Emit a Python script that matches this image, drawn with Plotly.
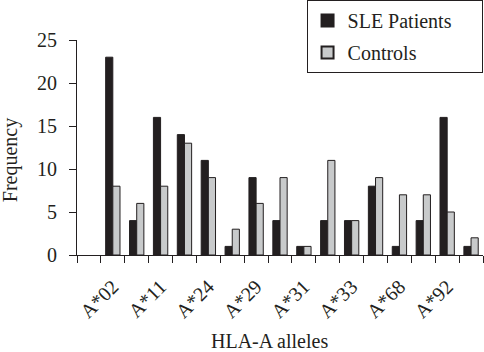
import plotly.graph_objects as go

# Category slots (slot 0 is empty in the original chart)
slots = list(range(0, 17))
sle_patients = [None, 23, 4, 16, 14, 11, 1, 9, 4, 1, 4, 4, 8, 1, 4, 16, 1]
controls = [None, 8, 6, 8, 13, 9, 3, 6, 9, 1, 11, 4, 9, 7, 7, 5, 2]

label_slots = [1, 3, 5, 7, 9, 11, 13, 15]
label_text = ["A*02", "A*11", "A*24", "A*29", "A*31", "A*33", "A*68", "A*92"]

FONT = "Liberation Serif"
INK = "#231f20"
PAD = "\u00a0" * 5

fig = go.Figure()
fig.add_trace(go.Bar(x=slots, y=sle_patients, name="SLE Patients" + PAD,
                     marker=dict(color=INK, line=dict(color=INK, width=1)),
                     legendgroup="a"))
fig.add_trace(go.Bar(x=slots, y=controls, name="Controls",
                     marker=dict(color="#c8cacb", line=dict(color=INK, width=1)),
                     legendgroup="b"))

fig.update_layout(
    width=484, height=352,
    margin=dict(l=77, r=1, t=40, b=97, autoexpand=False),
    paper_bgcolor="white", plot_bgcolor="white",
    barmode="group", bargap=0.4, bargroupgap=0,
    font=dict(family=FONT, size=20, color=INK),
    legend=dict(x=0.997, xref="container", xanchor="right",
                y=1, yref="container", yanchor="top",
                bordercolor=INK, borderwidth=1, bgcolor="white",
                font=dict(family=FONT, size=20, color=INK),
                tracegroupgap=3, itemsizing="constant"),
    xaxis=dict(range=[-0.5, 16.5], showline=True, linecolor=INK, linewidth=1,
               showgrid=False, zeroline=False,
               tickmode="array", tickvals=label_slots, ticktext=label_text,
               tickangle=-45, ticks="outside", ticklen=11,
               tickcolor="rgba(0,0,0,0)",
               tickfont=dict(family=FONT, size=20, color=INK),
               minor=dict(ticks="outside", tickmode="array",
                          tickvals=[s - 0.5 for s in slots] + [16.5],
                          ticklen=7, tickcolor=INK, tickwidth=1)),
    yaxis=dict(range=[0, 25], dtick=5, showline=True, linecolor=INK, linewidth=1,
               showgrid=False, zeroline=False, ticks="outside", ticklen=7,
               tickcolor=INK, ticklabelstandoff=8,
               tickfont=dict(family=FONT, size=20, color=INK)),
    annotations=[
        dict(text="Frequency", textangle=-90, xref="paper", yref="paper",
             x=-0.162, y=0.442, xanchor="center", yanchor="middle",
             showarrow=False, font=dict(family=FONT, size=20, color=INK)),
        dict(text="HLA-A alleles", xref="paper", yref="paper",
             x=0.473, y=-0.40, xanchor="center", yanchor="middle",
             showarrow=False, font=dict(family=FONT, size=20, color=INK)),
    ],
)

fig.write_html("out.html")
